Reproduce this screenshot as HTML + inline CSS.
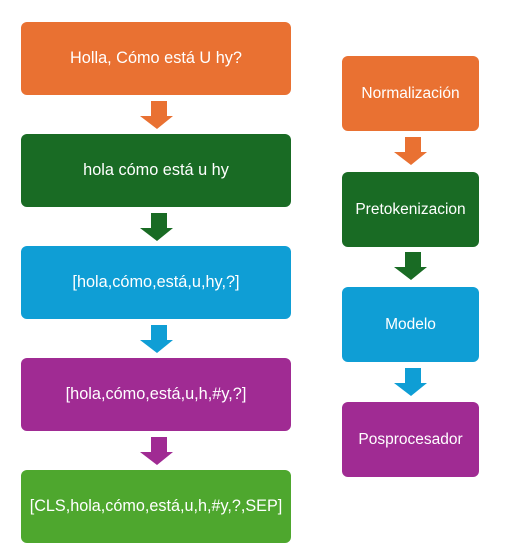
<!DOCTYPE html>
<html><head><meta charset="utf-8"><style>
body{margin:0;width:522px;height:556px;background:#fff;position:relative;overflow:hidden;font-family:"Liberation Sans","DejaVu Sans",sans-serif}
.b{position:absolute;border-radius:6px;color:#fff;display:flex;align-items:center;justify-content:center;font-size:16.3px;white-space:nowrap}
.l{left:21px;width:270px;height:73px}
.r{left:342px;width:137px;height:75px;font-size:15.5px}
.o{background:#E97132}.g{background:#196B24}.c{background:#0F9ED5}.p{background:#A02B93}.lg{background:#4EA72E}
svg{position:absolute}
</style></head><body>
<div class="b l o" style="top:22px">Holla, Cómo está U hy?</div>
<div class="b l g" style="top:134px">hola cómo está u hy</div>
<div class="b l c" style="top:246px">[hola,cómo,está,u,hy,?]</div>
<div class="b l p" style="top:358px">[hola,cómo,está,u,h,#y,?]</div>
<div class="b l lg" style="top:470px;font-size:16.2px">[CLS,hola,cómo,está,u,h,#y,?,SEP]</div>
<div class="b r o" style="top:56px">Normalización</div>
<div class="b r g" style="top:172px">Pretokenizacion</div>
<div class="b r c" style="top:287px">Modelo</div>
<div class="b r p" style="top:402px">Posprocesador</div>
<svg width="522" height="556" style="left:0;top:0">
<g transform="translate(0,101)"><polygon fill="#E97132" points="151,0 167,0 167,15 173,15 157,28 140,15 151,15"/></g>
<g transform="translate(0,213)"><polygon fill="#196B24" points="151,0 167,0 167,15 173,15 157,28 140,15 151,15"/></g>
<g transform="translate(0,325)"><polygon fill="#0F9ED5" points="151,0 167,0 167,15 173,15 157,28 140,15 151,15"/></g>
<g transform="translate(0,437)"><polygon fill="#A02B93" points="151,0 167,0 167,15 173,15 157,28 140,15 151,15"/></g>
<g transform="translate(254,137)"><polygon fill="#E97132" points="151,0 167,0 167,15 173,15 157,28 140,15 151,15"/></g>
<g transform="translate(254,252)"><polygon fill="#196B24" points="151,0 167,0 167,15 173,15 157,28 140,15 151,15"/></g>
<g transform="translate(254,368)"><polygon fill="#0F9ED5" points="151,0 167,0 167,15 173,15 157,28 140,15 151,15"/></g>
</svg>
</body></html>
